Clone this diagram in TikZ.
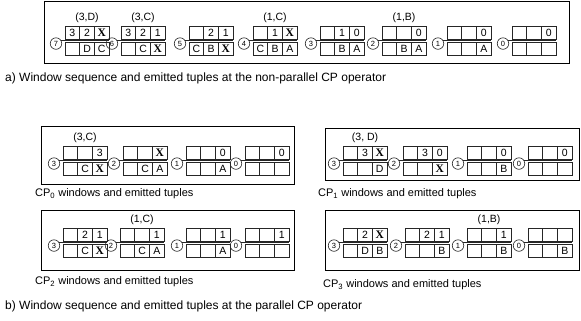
\documentclass[tikz,border=0pt]{standalone}
\usepackage{fontspec}
\setmainfont{Liberation Sans}
\newfontfamily\xmarkfont{Liberation Serif}
\usetikzlibrary{positioning}
\newcommand\X{{\xmarkfont\bfseries\fontsize{11.5}{12}\selectfont X}}

\begin{document}
\begin{tikzpicture}[
  x=1pt, y=-1pt,
  cell/.style={rectangle, draw=black!85, line width=0.6pt, minimum width=14.7pt, minimum height=13.5pt, inner sep=0pt, outer sep=0pt, font=\fontsize{10.5}{12}\selectfont},
  num/.style={circle, draw=black!85, line width=0.6pt, minimum size=11.5pt, inner sep=0pt, font=\fontsize{7.5}{8}\selectfont},
  pair/.style={inner sep=0pt, font=\fontsize{10.5}{12}\selectfont},
  panel/.style={draw, line width=0.8pt},
  caption/.style={anchor=west, inner sep=0pt, font=\fontsize{12}{14}\selectfont},
  subcap/.style={anchor=west, inner sep=0pt, font=\fontsize{11}{13}\selectfont}
]
\useasboundingbox (0,0) rectangle (581,321);

% PANELS
\draw[panel] (44,1) rectangle (569,63);
\draw[panel] (41,126) rectangle (294,184);
\draw[panel] (325,128) rectangle (579,180);
\draw[panel] (41,210) rectangle (294,270);
\draw[panel] (325,210) rectangle (579,270);

% WINDOWS
\foreach \id/\x/\y/\k/\ta/\tb/\tc/\ba/\bb/\bc in {
  a7/65/26/7/3/2/\X//D/C,
  a6/121/26/6/3/2/1//C/\X,
  a5/189/26/5//2/1/C/B/\X,
  a4/253/26/4//1/\X/C/B/A,
  a3/320/26/3//1/0//B/A,
  a2/382/26/2///0//B/A,
  a1/447/26/1///0///A,
  a0/512/26/0///0///,
  c0w3/63/146/3///3//C/\X,
  c0w2/123/146/2///\X//C/A,
  c0w1/186/146/1///0///A,
  c0w0/245/146/0///0///,
  c1w3/343/146/3//3/\X///D,
  c1w2/403/146/2//3/0///\X,
  c1w1/467/146/1///0///B,
  c1w0/528/146/0///0///,
  c2w3/63/228/3//2/1//C/\X,
  c2w2/120/228/2///1//C/A,
  c2w1/186/228/1///1///A,
  c2w0/245/228/0///1///,
  c3w3/343/228/3//2/\X//D/B,
  c3w2/405/228/2//2/1///B,
  c3w1/467/228/1///1///B,
  c3w0/528/228/0//////B%
}{
  \node[cell, anchor=north west] (\id t1) at (\x,\y) {\ta};
  \node[cell, right=0pt of \id t1] (\id t2) {\tb};
  \node[cell, right=0pt of \id t2] (\id t3) {\tc};
  \node[cell, below=2.5pt of \id t1] (\id b1) {\ba};
  \node[cell, right=0pt of \id b1] (\id b2) {\bb};
  \node[cell, right=0pt of \id b2] (\id b3) {\bc};
  \coordinate (\id m) at ([yshift=1.25pt]\id b1.north west);
  \node[num] (\id n) at ([xshift=-9pt, yshift=-2.8pt]\id m) {\k};
  \draw[black!85, line width=0.6pt] (\id n.30) -- (\id n.30 -| \id b3.east);
}

% EMITTED TUPLES
\node[pair, above=3.5pt of a7t2] (a7l) {(3,D)};
\node[pair, above=3.5pt of a6t2] (a6l) {(3,C)};
\node[pair, above=3.5pt of a4t2] (a4l) {(1,C)};
\node[pair, above=3.5pt of a2t2] (a2l) {(1,B)};
\node[pair, above=3.5pt of c0w3t2] (c0l) {(3,C)};
\node[pair, above=3.5pt of c1w3t2] (c1l) {(3, D)};
\node[pair, above=3.5pt of c2w2t2] (c2l) {(1,C)};
\node[pair, above=3.5pt of c3w1t2] (c3l) {(1,B)};

% CAPTIONS
\node[caption] (capa) at (5,78) {a) Window sequence and emitted tuples at the non-parallel CP operator};
\node[subcap] (cap0) at (35,194) {CP\textsubscript{0} windows and emitted tuples};
\node[subcap] (cap1) at (318,194) {CP\textsubscript{1} windows and emitted tuples};
\node[subcap] (cap2) at (35,282) {CP\textsubscript{2} windows and emitted tuples};
\node[subcap] (cap3) at (323,285) {CP\textsubscript{3} windows and emitted tuples};
\node[caption] (capb) at (5,306) {b) Window sequence and emitted tuples at the parallel CP operator};

\end{tikzpicture}
\end{document}
